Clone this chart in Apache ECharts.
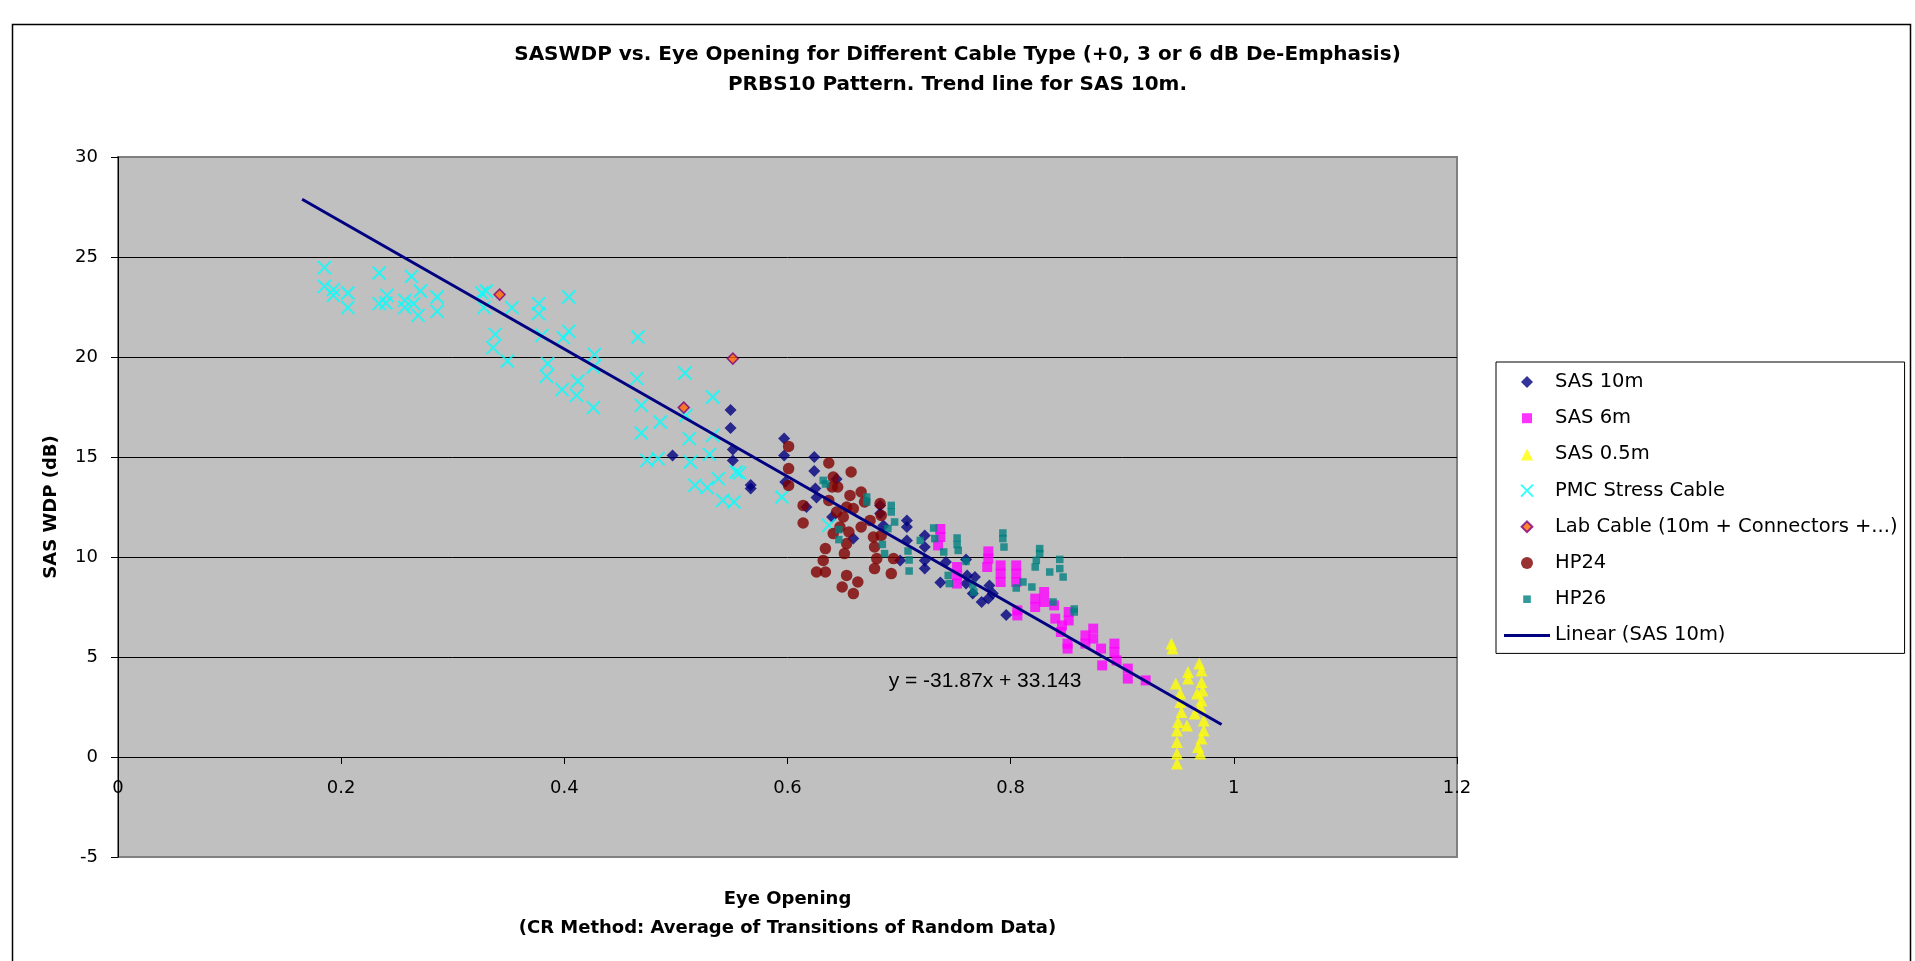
<!DOCTYPE html>
<html>
<head>
<meta charset="utf-8">
<title>SASWDP vs. Eye Opening</title>
<script src="https://cdn.jsdelivr.net/npm/echarts@6/dist/echarts.min.js"></script>
<style>
  html, body { margin: 0; padding: 0; background: #ffffff; }
  #chart { width: 1915px; height: 961px; }
</style>
</head>
<body>
<div id="chart"></div>
<script>
// ---- text ----
const titleLines = [
  'SASWDP vs. Eye Opening for Different Cable Type (+0, 3 or 6 dB De-Emphasis)',
  'PRBS10 Pattern. Trend line for SAS 10m.'
];
const xAxisTitle = ['Eye Opening', '(CR Method: Average of Transitions of Random Data)'];
const yAxisTitle = 'SAS WDP (dB)';
const seriesNames = [
  'SAS 10m', 'SAS 6m', 'SAS 0.5m', 'PMC Stress Cable',
  'Lab Cable (10m + Connectors +...)', 'HP24', 'HP26', 'Linear (SAS 10m)'
];

// ---- axis ranges: [min, max, step] ----
const xRange = [0, 1.2, 0.2];
const yRange = [-5, 30, 5];

// ---- measurements: [eye opening, SAS WDP dB] ----
const sas10m = [
  [0.497,15.08],[0.549,17.35],[0.549,16.45],[0.551,15.37],[0.551,14.83],[0.567,13.6],[0.567,13.42],
  [0.597,15.92],[0.597,15.08],[0.598,13.75],[0.624,15.0],[0.624,14.3],[0.625,13.42],[0.626,12.97],
  [0.617,12.5],[0.644,13.9],[0.640,12.0],[0.659,10.92],[0.683,12.58],[0.683,12.17],[0.686,11.58],
  [0.707,11.83],[0.707,11.5],[0.707,10.83],[0.701,9.83],[0.723,11.08],[0.723,10.5],[0.723,9.83],
  [0.723,9.42],[0.737,8.72],[0.742,9.75],[0.760,9.88],[0.761,9.08],[0.768,9.0],[0.760,8.67],
  [0.781,8.58],[0.774,7.75],[0.780,7.92],[0.784,8.17],[0.796,7.1],[0.766,8.17]
];
const sas6m = [
  [0.737,11.4],[0.737,11.0],[0.735,10.58],[0.752,9.5],[0.752,9.08],[0.752,8.67],[0.780,10.28],
  [0.780,9.92],[0.779,9.5],[0.791,9.58],[0.791,9.17],[0.791,8.75],[0.805,9.58],[0.805,9.17],
  [0.805,8.75],[0.806,7.33],[0.806,7.08],[0.822,7.92],[0.822,7.5],[0.830,8.25],[0.830,7.75],
  [0.839,7.58],[0.840,6.92],[0.846,6.58],[0.845,6.25],[0.852,7.25],[0.852,6.83],[0.851,5.67],
  [0.851,5.42],[0.867,6.08],[0.867,5.67],[0.874,6.42],[0.874,5.92],[0.881,5.42],[0.882,4.58],
  [0.893,5.67],[0.893,5.25],[0.895,4.83],[0.905,4.42],[0.905,3.92],[0.921,3.83]
];
const sas05m = [
  [0.944,5.67],[0.945,5.42],[0.948,3.67],[0.952,3.17],[0.952,2.75],[0.953,2.25],[0.950,1.75],
  [0.949,1.33],[0.949,0.75],[0.949,0.17],[0.949,-0.33],[0.958,1.58],[0.959,4.25],[0.959,3.92],
  [0.965,2.17],[0.967,3.17],[0.969,4.67],[0.971,4.33],[0.971,3.75],[0.972,3.33],[0.971,2.83],
  [0.970,2.5],[0.973,1.33],[0.971,0.92],[0.968,0.5],[0.970,0.17],[0.973,1.83]
];
const pmcStress = [
  [0.185,24.47],[0.185,23.53],[0.193,23.37],[0.193,23.08],[0.206,23.2],[0.206,22.47],[0.234,24.2],
  [0.234,22.67],[0.241,23.08],[0.240,22.7],[0.263,24.03],[0.257,22.83],[0.257,22.47],[0.271,23.3],
  [0.269,22.08],[0.265,22.67],[0.286,23.0],[0.286,22.28],[0.330,23.3],[0.326,23.2],[0.328,22.47],
  [0.353,22.47],[0.338,21.13],[0.336,20.47],[0.349,19.8],[0.377,22.67],[0.377,22.17],[0.404,23.0],
  [0.380,21.08],[0.404,21.28],[0.399,20.97],[0.427,20.13],[0.426,19.5],[0.385,19.67],[0.384,19.03],
  [0.398,18.37],[0.412,18.8],[0.411,18.08],[0.426,17.47],[0.466,21.0],[0.465,18.92],[0.469,17.58],
  [0.469,16.2],[0.486,16.75],[0.474,14.83],[0.484,14.92],[0.508,19.2],[0.509,17.08],[0.512,15.92],
  [0.513,14.75],[0.517,13.58],[0.528,13.47],[0.533,18.0],[0.533,16.08],[0.530,15.13],[0.538,13.92],
  [0.542,12.83],[0.552,12.75],[0.554,14.25],[0.557,14.2],[0.595,13.0],[0.637,11.58]
];
const labCable = [
  [0.342,23.12],[0.551,19.92],[0.507,17.47]
];
const hp24 = [
  [0.601,15.53],[0.601,14.42],[0.601,13.58],[0.614,12.58],[0.614,11.7],[0.637,14.7],[0.641,14.0],
  [0.657,14.25],[0.640,13.5],[0.645,13.5],[0.637,12.83],[0.644,12.25],[0.650,12.0],[0.656,13.08],
  [0.666,13.25],[0.653,12.5],[0.659,12.42],[0.669,12.75],[0.674,11.83],[0.666,11.5],[0.683,12.67],
  [0.684,12.08],[0.641,11.17],[0.647,11.5],[0.655,11.25],[0.653,10.67],[0.651,10.17],[0.677,11.0],
  [0.678,10.5],[0.680,9.92],[0.678,9.42],[0.695,9.92],[0.693,9.17],[0.634,10.42],[0.632,9.83],
  [0.626,9.25],[0.634,9.25],[0.653,9.08],[0.649,8.5],[0.663,8.75],[0.659,8.17],[0.684,11.08]
];
const hp26 = [
  [0.632,13.83],[0.634,13.65],[0.671,13.0],[0.671,12.75],[0.693,12.58],[0.693,12.25],[0.696,11.75],
  [0.690,11.42],[0.646,11.37],[0.646,10.87],[0.685,10.63],[0.687,10.17],[0.708,10.3],[0.709,9.85],
  [0.709,9.3],[0.731,11.45],[0.732,10.92],[0.740,10.25],[0.719,10.83],[0.752,10.95],[0.752,10.62],
  [0.753,10.33],[0.760,9.78],[0.744,9.08],[0.745,8.67],[0.766,8.62],[0.767,8.25],[0.793,11.2],
  [0.793,10.92],[0.794,10.5],[0.805,8.45],[0.811,8.75],[0.819,8.5],[0.826,10.42],[0.826,10.17],
  [0.823,9.83],[0.822,9.5],[0.835,9.25],[0.844,9.88],[0.844,9.42],[0.847,9.0],[0.838,7.75],
  [0.857,7.4],[0.857,7.25]
];

// ---- linear trend fitted to SAS 10m ----
const trendSlope = -31.87;
const trendIntercept = 33.143;
const trendSpan = [0.165, 0.989];
const trendLabel = 'y = -31.87x + 33.143';
const trendLabelAt = [0.777, 3.79];

const trendLine = trendSpan.map(x => [x, trendSlope * x + trendIntercept]);

const FONT = 'DejaVu Sans';
const CROSS = 'path://M0,0L10,10M10,0L0,10';

// plot rectangle inside the 1915x961 canvas
const GRID = { left: 118, right: 458, top: 157, bottom: 104 };
const gridHeight = 961 - GRID.top - GRID.bottom;
// the horizontal axis sits on y = 0, measured up from the bottom edge
const xAxisShift = -gridHeight * (0 - yRange[0]) / (yRange[1] - yRange[0]);

// legend glyphs, drawn inside a 12x12 box so each keeps its own size
const legendIcons = [
  'path://M6,0L12,6L6,12L0,6Z',
  'path://M0,0M12,12M1,1H11V11H1Z',
  'path://M6,0L12,12H0Z',
  CROSS,
  'path://M0,0M12,12M6,0.6L11.4,6L6,11.4L0.6,6Z',
  'circle',
  'path://M0,0M12,12M2.2,2.2H9.8V9.8H2.2Z',
  'path://M0,0H46V3H0Z'
];

function scatter(name, data, symbol, size, itemStyle) {
  return {
    name: name,
    type: 'scatter',
    data: data,
    symbol: symbol,
    symbolSize: size,
    itemStyle: itemStyle,
    emphasis: { disabled: true },
    silent: true
  };
}

const chart = echarts.init(document.getElementById('chart'), null, { renderer: 'canvas' });

chart.setOption({
  animation: false,
  backgroundColor: '#ffffff',
  title: {
    text: titleLines.join('\n'),
    left: 'center',
    top: 40,
    padding: 0,
    textStyle: { fontFamily: FONT, fontWeight: 'bold', fontSize: 20, lineHeight: 30, color: '#000000' }
  },
  graphic: [{
    type: 'rect',
    left: 10,
    top: 22,
    z: -10,
    silent: true,
    shape: { width: 1898, height: 1000 },
    style: { fill: 'none', stroke: '#000000', lineWidth: 1.5 }
  }],
  legend: {
    orient: 'vertical',
    left: 1496,
    top: 362,
    padding: [10, 7, 8, 8],
    itemWidth: 46,
    itemHeight: 12,
    itemGap: 16.2,
    symbolKeepAspect: true,
    selectedMode: false,
    backgroundColor: '#ffffff',
    borderColor: '#000000',
    borderWidth: 1,
    textStyle: { fontFamily: FONT, fontSize: 19.5, lineHeight: 20, color: '#000000' },
    data: seriesNames.map((name, i) => {
      const item = { name: name, icon: legendIcons[i] };
      if (i === seriesNames.length - 1) item.itemStyle = { borderWidth: 0 };
      return item;
    })
  },
  grid: {
    left: GRID.left,
    right: GRID.right,
    top: GRID.top,
    bottom: GRID.bottom,
    show: true,
    backgroundColor: '#C0C0C0',
    borderColor: '#808080',
    borderWidth: 2,
    outerBoundsMode: 'none'
  },
  xAxis: {
    type: 'value',
    min: xRange[0],
    max: xRange[1],
    interval: xRange[2],
    position: 'bottom',
    offset: xAxisShift,
    axisLine: { show: true, onZero: false, lineStyle: { color: '#000000', width: 1 } },
    axisTick: { show: true, length: 7, lineStyle: { color: '#000000', width: 1 } },
    axisLabel: { color: '#000000', fontFamily: FONT, fontSize: 18, margin: 22 },
    splitLine: { show: false },
    name: xAxisTitle.join('\n'),
    nameLocation: 'middle',
    nameGap: 128,
    nameTextStyle: { fontFamily: FONT, fontWeight: 'bold', fontSize: 18, lineHeight: 29, color: '#000000' }
  },
  yAxis: {
    type: 'value',
    min: yRange[0],
    max: yRange[1],
    interval: yRange[2],
    axisLine: { show: true, onZero: false, lineStyle: { color: '#000000', width: 1 } },
    axisTick: { show: true, length: 7, lineStyle: { color: '#000000', width: 1 } },
    axisLabel: { color: '#000000', fontFamily: FONT, fontSize: 18, margin: 20 },
    splitLine: {
      show: true,
      showMinLine: false,
      showMaxLine: false,
      lineStyle: { color: '#000000', width: 1 }
    },
    name: yAxisTitle,
    nameLocation: 'middle',
    nameRotate: 90,
    nameGap: 58,
    nameTextStyle: { fontFamily: FONT, fontWeight: 'bold', fontSize: 18, color: '#000000' }
  },
  series: [
    scatter(seriesNames[0], sas10m, 'diamond', 12, { color: '#000080' }),
    scatter(seriesNames[1], sas6m, 'rect', 10, { color: '#FF00FF' }),
    scatter(seriesNames[2], sas05m, 'triangle', 12, { color: '#FFFF00' }),
    scatter(seriesNames[3], pmcStress, CROSS, 13,
      { color: 'rgba(0,0,0,0)', borderColor: '#00FFFF', borderWidth: 2 }),
    scatter(seriesNames[4], labCable, 'diamond', 11,
      { color: '#FF6600', borderColor: '#800080', borderWidth: 1.5 }),
    scatter(seriesNames[5], hp24, 'circle', 11.5, { color: '#800000' }),
    scatter(seriesNames[6], hp26, 'rect', 7.5, { color: '#008080' }),
    {
      name: seriesNames[7],
      type: 'line',
      data: trendLine,
      symbol: 'none',
      showSymbol: false,
      silent: true,
      lineStyle: { color: '#000080', width: 3 },
      itemStyle: { color: '#000080' },
      emphasis: { disabled: true },
      markPoint: {
        silent: true,
        symbol: 'rect',
        symbolSize: 1,
        itemStyle: { color: 'rgba(0,0,0,0)' },
        label: {
          show: true,
          position: 'inside',
          formatter: trendLabel,
          color: '#000000',
          fontFamily: 'Liberation Sans',
          fontSize: 21
        },
        data: [{ coord: trendLabelAt }]
      }
    }
  ]
});
</script>
</body>
</html>
